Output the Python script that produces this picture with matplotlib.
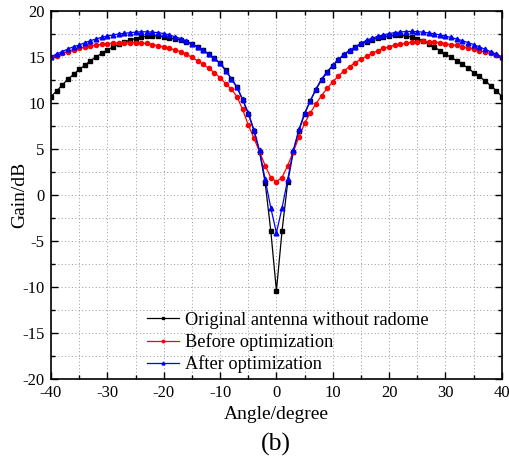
import numpy as np
import matplotlib
matplotlib.use("Agg")
import matplotlib.pyplot as plt
from matplotlib.ticker import MultipleLocator

plt.rcParams['font.family'] = ['Liberation Serif', 'DejaVu Serif']
plt.rcParams['axes.unicode_minus'] = False

angle = np.arange(-40, 41)

original = [10.7, 11.3, 11.95, 12.6, 13.1, 13.65, 14.1, 14.6, 15.0, 15.4,
            15.75, 16.1, 16.37, 16.6, 16.85, 17.0, 17.15, 17.25, 17.3, 17.3,
            17.2, 17.1, 16.95, 16.85, 16.65, 16.4, 16.1, 15.75, 15.3, 14.85,
            14.3, 13.6, 12.6, 11.7, 10.35, 8.85, 7.0, 4.7, 1.35, -3.9,
            -10.4,
            -3.9, 1.4, 4.7, 7.0, 8.8, 10.2, 11.45, 12.5, 13.35, 14.05,
            14.7, 15.25, 15.7, 16.05, 16.4, 16.65, 16.9, 17.05, 17.2, 17.3,
            17.35, 17.35, 17.3, 17.15, 17.0, 16.75, 16.45, 16.1, 15.7, 15.3,
            14.95, 14.6, 14.2, 13.8, 13.3, 12.9, 12.4, 11.9, 11.35, 10.7]

before = [15.0, 15.14, 15.4, 15.58, 15.76, 15.95, 16.05, 16.2, 16.3, 16.37,
          16.45, 16.5, 16.52, 16.55, 16.55, 16.55, 16.52, 16.47, 16.35, 16.23,
          16.1, 15.95, 15.76, 15.58, 15.3, 14.96, 14.6, 14.2, 13.77, 13.3,
          12.75, 12.1, 11.5, 10.7, 9.3, 7.6, 6.2, 4.7, 3.2, 1.9,
          1.45,
          1.9, 3.2, 4.7, 6.3, 7.8, 8.9, 9.9, 10.8, 11.6, 12.3,
          12.95, 13.5, 13.95, 14.4, 14.75, 15.1, 15.4, 15.7, 15.95, 16.1,
          16.3, 16.4, 16.5, 16.6, 16.65, 16.7, 16.68, 16.6, 16.55, 16.45,
          16.35, 16.25, 16.12, 16.0, 15.87, 15.7, 15.55, 15.38, 15.18, 14.98]

after = [15.03, 15.33, 15.58, 15.87, 16.12, 16.3, 16.55, 16.77, 16.96, 17.14,
         17.28, 17.4, 17.5, 17.57, 17.64, 17.7, 17.74, 17.74, 17.7, 17.65,
         17.55, 17.4, 17.2, 17.0, 16.75, 16.45, 16.1, 15.75, 15.3, 14.85,
         14.3, 13.5, 12.65, 11.75, 10.4, 8.95, 7.1, 4.85, 1.7, -1.4,
         -4.1,
         -1.4, 1.7, 4.9, 7.15, 8.9, 10.25, 11.5, 12.6, 13.4, 14.1,
         14.75, 15.3, 15.75, 16.1, 16.5, 16.8, 17.05, 17.25, 17.4, 17.55,
         17.65, 17.72, 17.77, 17.78, 17.75, 17.7, 17.62, 17.52, 17.4, 17.27,
         17.12, 16.95, 16.77, 16.57, 16.35, 16.1, 15.85, 15.58, 15.3, 15.02]

fig = plt.figure(figsize=(5.1, 4.58), dpi=100)
ax = fig.add_axes([0.1, 0.1725, 0.884, 0.8035])

ax.plot(angle, original, color='black', marker='s', markersize=3, linewidth=0.9,
        label='Original antenna without radome')
ax.plot(angle, before, color='red', marker='o', markersize=3, linewidth=0.9,
        label='Before optimization')
ax.plot(angle, after, color='blue', marker='^', markersize=3.4, linewidth=0.9,
        label='After optimization')

ax.set_xlim(-40, 40)
ax.set_ylim(-20, 20)
ax.xaxis.set_major_locator(MultipleLocator(10))
ax.xaxis.set_minor_locator(MultipleLocator(5))
ax.yaxis.set_major_locator(MultipleLocator(5))
ax.yaxis.set_minor_locator(MultipleLocator(2.5))
ax.grid(True, which='both', color='#999999', linestyle=(0, (1, 2.5)), linewidth=0.7)
ax.tick_params(which='both', direction='in', top=True, right=True, labelsize=12)
ax.tick_params(axis='y', pad=4.5)
ax.tick_params(axis='x', pad=4)
ax.tick_params(which='major', length=5, width=1)
ax.tick_params(which='minor', length=3, width=1)
for s in ax.spines.values():
    s.set_linewidth(1.2)

ax.set_xlabel('Angle/degree', fontsize=14, labelpad=4)
ax.set_ylabel('Gain/dB', fontsize=14, labelpad=-4)

ax.legend(loc='upper left', bbox_to_anchor=(0.213, 0.183), frameon=False, fontsize=13.2,
          handlelength=1.75, handletextpad=0.3, labelspacing=0.24, markerscale=0.6,
          borderpad=0, borderaxespad=0)

fig.text(0.54, 0.03, '(b)', fontsize=18.5, ha='center', va='center')

fig.savefig('out.png', dpi=100)
